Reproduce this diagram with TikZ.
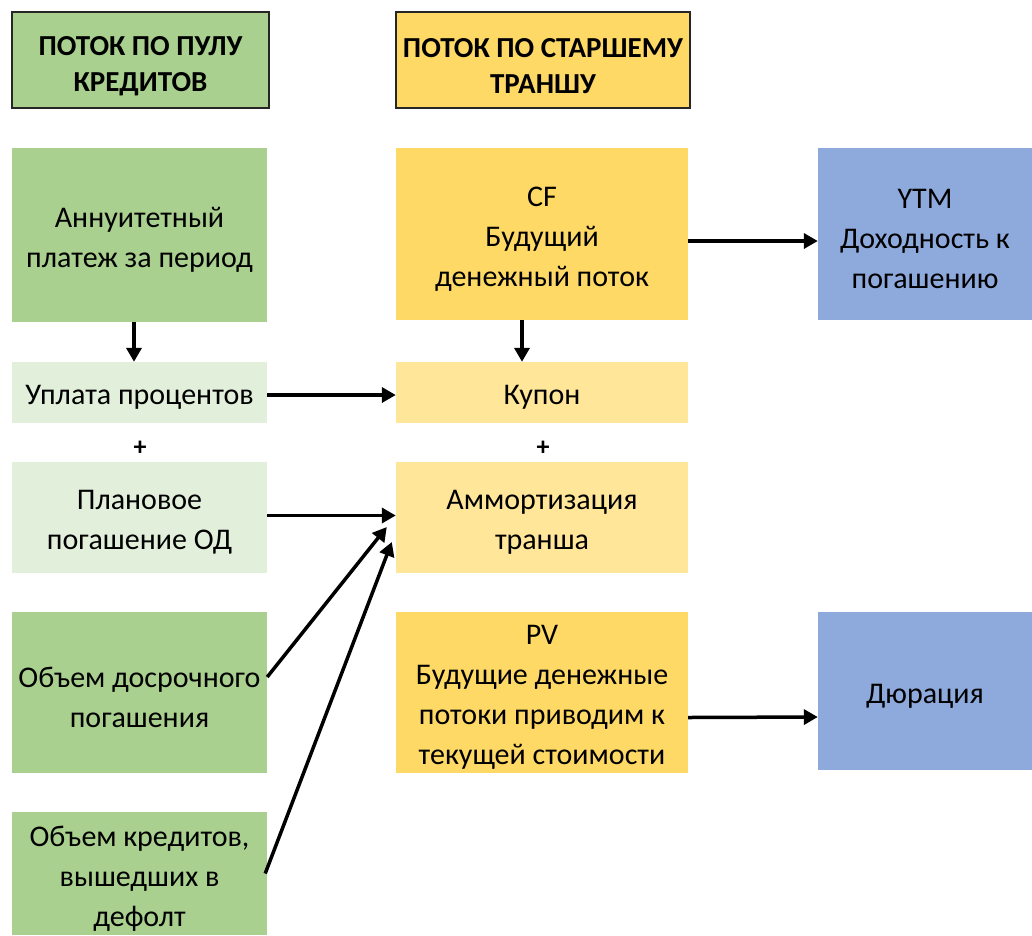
\documentclass[tikz,border=0pt]{standalone}
\usepackage{fontspec}
\setmainfont{Carlito}
\usetikzlibrary{arrows.meta}
\definecolor{cgreen}{HTML}{A9D08E}
\definecolor{clgreen}{HTML}{E2EFDA}
\definecolor{cyellow}{HTML}{FFD966}
\definecolor{clyellow}{HTML}{FFE699}
\definecolor{cblue}{HTML}{8EA9DB}
\begin{document}
\begin{tikzpicture}[x=1pt,y=-1pt,
  box/.style={inner sep=0pt},
  lbl/.style={inner sep=0pt, align=center, font=\fontsize{30}{40}\selectfont, yshift=-5pt},
  txt/.style={label={[lbl]center:{#1}}},
  hdr/.style={box, draw=black!85, line width=1.6pt},
  htxt/.style={label={[lbl, font=\fontsize{29}{36}\selectfont\bfseries, yshift=-1pt]center:{#1}}},
  plus/.style={box, font=\fontsize{26}{30}\selectfont\bfseries},
  conn/.style={line width=3.5pt, -{Triangle[length=14pt,width=15pt]}}]
\useasboundingbox (0,0) rectangle (1032,935);
\node[hdr, fill=cgreen, minimum width=257, minimum height=96, htxt={ПОТОК ПО ПУЛУ\\КРЕДИТОВ}] (h1) at (140.5,60) {};
\node[hdr, fill=cyellow, minimum width=294, minimum height=96, htxt={ПОТОК ПО СТАРШЕМУ\\ТРАНШУ}] (h2) at (543,60) {};
\node[box, fill=cgreen, minimum width=255, minimum height=174, txt={Аннуитетный\\платеж за период}] (ann) at (139.5,235) {};
\node[box, fill=cyellow, minimum width=292, minimum height=172, txt={CF\\Будущий\\денежный поток}] (cf) at (542,234) {};
\node[box, fill=cblue, minimum width=214, minimum height=172, txt={YTM\\Доходность к\\погашению}] (ytm) at (925,234) {};
\node[box, fill=clgreen, minimum width=255, minimum height=61, txt={Уплата процентов}] (upl) at (139.5,392.5) {};
\node[box, fill=clyellow, minimum width=292, minimum height=61, txt={Купон}] (kup) at (542,392.5) {};
\node[plus] (p1) at (140,448) {+};
\node[plus] (p2) at (543,448) {+};
\node[box, fill=clgreen, minimum width=255, minimum height=111, txt={Плановое\\погашение ОД}] (plan) at (139.5,517.5) {};
\node[box, fill=clyellow, minimum width=292, minimum height=111, txt={Аммортизация\\транша}] (amm) at (542,517.5) {};
\node[box, fill=cgreen, minimum width=255, minimum height=161, txt={Объем досрочного\\погашения}] (dos) at (139.5,692.5) {};
\node[box, fill=cyellow, minimum width=292, minimum height=161, txt={PV\\Будущие денежные\\потоки приводим к\\текущей стоимости}] (pv) at (542,692.5) {};
\node[box, fill=cblue, minimum width=214, minimum height=158, txt={Дюрация}] (dur) at (925,691) {};
\node[box, fill=cgreen, minimum width=255, minimum height=123, txt={Объем кредитов,\\вышедших в\\дефолт}] (kred) at (139.5,873.5) {};
\draw[conn] ([yshift=-7pt]cf.east) -- ([yshift=-7pt]ytm.west);
\draw[conn] ([xshift=-5.5pt]ann.south) -- ([xshift=-5.5pt]upl.north);
\draw[conn] ([xshift=-20pt]cf.south) -- ([xshift=-20pt]kup.north);
\draw[conn] ([yshift=-2.5pt]upl.east) -- ([yshift=-2.5pt]kup.west);
\draw[conn] ([yshift=2pt]plan.east) -- ([yshift=2pt]amm.west);
\draw[conn] ([yshift=15.5pt]dos.east) -- ([xshift=-9pt,yshift=-9.5pt]amm.west);
\draw[conn] ([xshift=-2pt]kred.east) -- ([xshift=-4pt,yshift=-24.5pt]amm.west);
\draw[conn] ([yshift=-25pt]pv.east) -- ([yshift=-26pt]dur.west);
\end{tikzpicture}
\end{document}
